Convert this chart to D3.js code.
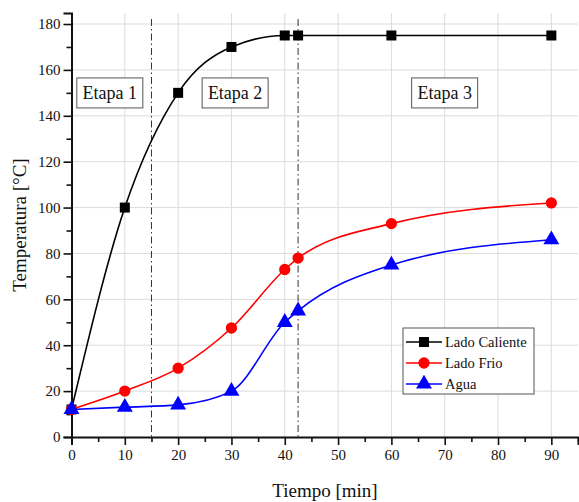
<!DOCTYPE html>
<html>
<head>
    <title>Temperatura vs Tiempo</title>
    <script src="https://cdnjs.cloudflare.com/ajax/libs/d3/7.8.5/d3.min.js"></script>
    <style>
        body { margin: 0; background: white; }
        svg text { font-family: "Liberation Serif", "Times New Roman", Times, serif; }
        .tick text { font-size: 15px; fill: #111; }
        .axis path, .axis line { stroke: #111; }
        .grid line { stroke: #dcdcdc; stroke-width: 1; }
        .stage-label { font-size: 18px; fill: #111; }
        .legend-label { font-size: 14.5px; fill: #111; }
        .axis-title { font-size: 19px; fill: #111; }
    </style>
</head>
<body>
    <div id="chart"></div>
    <script>
        // data
        const tiempo = [0, 10, 20, 30, 40, 42.5, 60, 90];
        const ladoCaliente = [12, 100, 150, 170, 175, 175, 175, 175];
        const ladoFrio = [12, 20, 30, 47.5, 73, 78, 93, 102];
        const agua = [12, 13, 14, 20, 50, 55, 75, 86];
        const seriesNames = ["Lado Caliente", "Lado Frio", "Agua"];
        const seriesColors = ["#000000", "#ff0000", "#0000ff"];
        const seriesShapes = [d3.symbolSquare, d3.symbolCircle, d3.symbolTriangle];
        const stageLines = [15, 42.5];
        const stages = [
            { label: "Etapa 1", x: 1 },
            { label: "Etapa 2", x: 24.5 },
            { label: "Etapa 3", x: 63.8 }
        ];
        const xTicks = [0, 10, 20, 30, 40, 50, 60, 70, 80, 90];
        const yTicks = [0, 20, 40, 60, 80, 100, 120, 140, 160, 180];

        const FONT = '"Liberation Serif", "Times New Roman", Times, serif';
        const W = 579, H = 502;
        const margin = { top: 13, right: 1, bottom: 65, left: 71.5 };
        const width = W - margin.left - margin.right;
        const height = H - margin.top - margin.bottom;

        const svg = d3.select("#chart").append("svg")
            .attr("width", W).attr("height", H)
            .style("font-family", FONT);
        const g = svg.append("g")
            .attr("transform", `translate(${margin.left},${margin.top})`);

        const x = d3.scaleLinear().domain([0, 95]).range([0, width]);
        const y = d3.scaleLinear().domain([0, 184.8]).range([height, 0]);

        // grid
        g.append("g").attr("class", "grid")
            .selectAll("line").data(xTicks.slice(1)).join("line")
            .attr("x1", d => x(d)).attr("x2", d => x(d))
            .attr("y1", 0).attr("y2", height);
        g.append("g").attr("class", "grid")
            .selectAll("line").data(yTicks.slice(1)).join("line")
            .attr("x1", 0).attr("x2", width)
            .attr("y1", d => y(d)).attr("y2", d => y(d));

        // stage dividers
        g.selectAll(".stage-line").data(stageLines).join("line")
            .attr("class", "stage-line")
            .attr("x1", d => x(d)).attr("x2", d => x(d))
            .attr("y1", 6).attr("y2", height)
            .attr("stroke", "#333").attr("stroke-width", 1)
            .attr("stroke-dasharray", "7,3,1.5,3");

        // stage boxes
        stages.forEach(s => {
            const bx = x(s.x), by = y(156.5);
            g.append("rect")
                .attr("x", bx).attr("y", by)
                .attr("width", 66).attr("height", 30)
                .attr("fill", "white").attr("stroke", "#555").attr("stroke-width", 1);
            g.append("text").attr("class", "stage-label")
                .attr("x", bx + 33).attr("y", by + 21)
                .attr("text-anchor", "middle")
                .text(s.label);
        });

        // axes
        g.append("g").attr("class", "axis")
            .attr("transform", `translate(0,${height})`)
            .call(d3.axisBottom(x).tickValues(xTicks).tickSize(8).tickPadding(4));
        g.append("g").attr("class", "axis")
            .attr("transform", `translate(0,${height})`)
            .call(d3.axisBottom(x).tickValues([5, 15, 25, 35, 45, 55, 65, 75, 85, 95]).tickSize(5).tickFormat(""))
            .select(".domain").remove();
        g.append("g").attr("class", "axis")
            .call(d3.axisLeft(y).tickValues(yTicks).tickSize(8).tickPadding(3));
        g.append("g").attr("class", "axis")
            .call(d3.axisLeft(y).tickValues([10, 30, 50, 70, 90, 110, 130, 150, 170]).tickSize(5).tickFormat(""))
            .select(".domain").remove();
        g.selectAll(".axis").attr("font-family", null).attr("font-size", null);
        g.selectAll(".axis text").style("font-family", FONT).style("font-size", "15px");
        g.selectAll(".axis .domain").attr("stroke-width", 2);
        g.selectAll(".axis line").attr("stroke-width", 1.6);

        // series
        const allSeries = [ladoCaliente, ladoFrio, agua];
        const line = d3.line()
            .x(d => x(d[0])).y(d => y(d[1]))
            .curve(d3.curveMonotoneX);
        const markerSizes = [100, 100, 110];

        allSeries.forEach((vals, i) => {
            const pts = tiempo.map((t, j) => [t, vals[j]]);
            g.append("path").datum(pts)
                .attr("fill", "none")
                .attr("stroke", seriesColors[i])
                .attr("stroke-width", 1.6)
                .attr("d", line);
            g.selectAll(".m" + i).data(pts).join("path")
                .attr("class", "m" + i)
                .attr("transform", d => `translate(${x(d[0])},${y(d[1])})`)
                .attr("d", d3.symbol().type(seriesShapes[i]).size(markerSizes[i]))
                .attr("fill", seriesColors[i]);
        });

        // legend
        const lg = svg.append("g").attr("transform", "translate(403,328)");
        lg.append("rect")
            .attr("width", 131).attr("height", 66)
            .attr("fill", "white").attr("stroke", "#555").attr("stroke-width", 1);
        seriesNames.forEach((name, i) => {
            const ry = 14 + i * 21;
            lg.append("line")
                .attr("x1", 3).attr("x2", 39).attr("y1", ry).attr("y2", ry)
                .attr("stroke", seriesColors[i]).attr("stroke-width", 1.6);
            lg.append("path")
                .attr("transform", `translate(21,${ry})`)
                .attr("d", d3.symbol().type(seriesShapes[i]).size(markerSizes[i]))
                .attr("fill", seriesColors[i]);
            lg.append("text").attr("class", "legend-label")
                .attr("x", 42).attr("y", ry + 5)
                .text(name);
        });

        // axis titles
        svg.append("text").attr("class", "axis-title")
            .attr("text-anchor", "middle")
            .attr("transform", `translate(26,${margin.top + height / 2}) rotate(-90)`)
            .text("Temperatura [°C]");
        svg.append("text").attr("class", "axis-title")
            .attr("text-anchor", "middle")
            .attr("x", 325).attr("y", 497)
            .text("Tiempo [min]");
    </script>
</body>
</html>
